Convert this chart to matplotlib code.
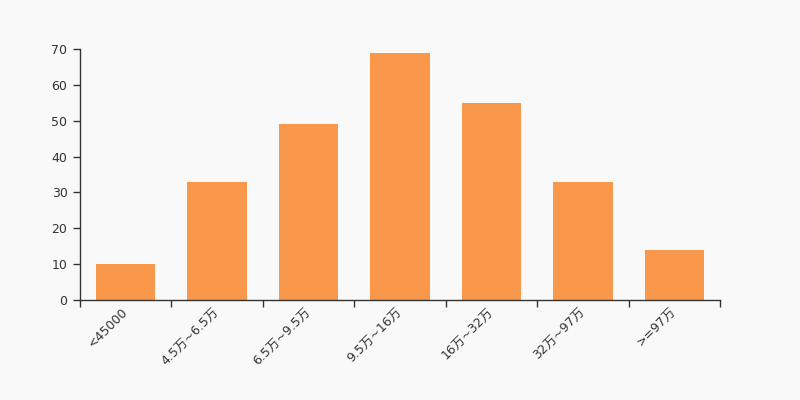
import numpy as np
import matplotlib.pyplot as plt
import matplotlib.transforms as mtransforms

plt.rcParams['font.family'] = ['DejaVu Sans', 'Noto Sans CJK SC']

categories = ['<45000', '4.5万~6.5万', '6.5万~9.5万', '9.5万~16万', '16万~32万', '32万~97万', '>=97万']
counts = [10, 33, 49, 69, 55, 33, 14]

bg = '#f9f9f9'
fig = plt.figure(figsize=(8, 4), dpi=100, facecolor=bg)
ax = fig.add_axes([0.1, 0.25, 0.8, 0.6275], facecolor=bg)

x = np.arange(len(categories))
ax.bar(x, counts, width=0.65, color='#f9984a')

ax.set_xlim(-0.5, len(categories) - 0.5)
ax.set_ylim(0, 70)
ax.set_yticks(range(0, 71, 10))

# labels at category centres, tick marks on the boundaries
ax.set_xticks(x)
ax.set_xticklabels(categories, rotation=45, ha='right', rotation_mode='anchor')
ax.set_xticks(np.arange(len(categories) + 1) - 0.5, minor=True)
ax.tick_params(axis='x', which='major', length=0, pad=4)
ax.tick_params(axis='x', which='minor', length=5, color='#333333', width=1)
ax.tick_params(axis='y', length=5, color='#333333', width=1, pad=4)
ax.tick_params(labelsize=9, labelcolor='#333333')

shift = mtransforms.ScaledTranslation(-3 / 72, 0, fig.dpi_scale_trans)
for lbl in ax.get_xticklabels():
    lbl.set_transform(lbl.get_transform() + shift)

for s in ['top', 'right']:
    ax.spines[s].set_visible(False)
for s in ['left', 'bottom']:
    ax.spines[s].set_color('#333333')
    ax.spines[s].set_linewidth(1)

fig.savefig('out.png', dpi=100, facecolor=bg)
